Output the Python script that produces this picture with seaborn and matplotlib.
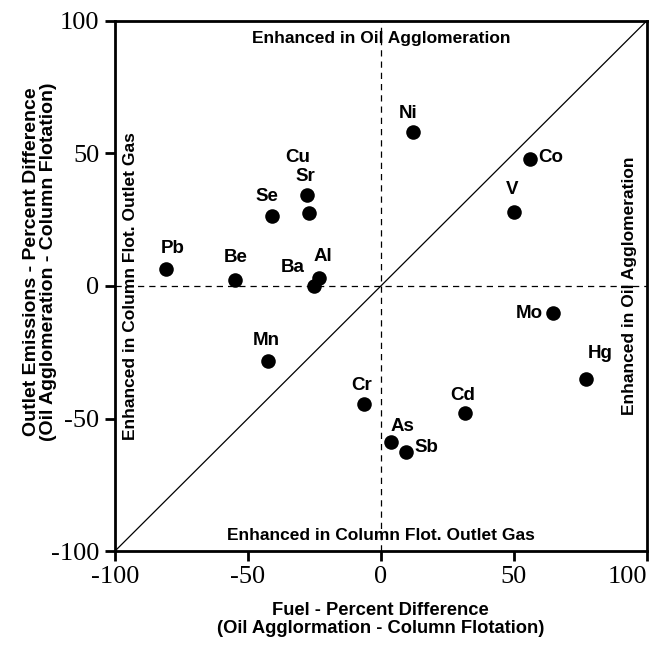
import matplotlib
matplotlib.use("Agg")
import matplotlib.pyplot as plt
import seaborn as sns
import pandas as pd

elements = ["Pb", "Be", "Se", "Cu", "Sr", "Ba", "Al", "Mn", "Cr", "As", "Sb",
            "Cd", "Ni", "Co", "V", "Mo", "Hg"]
fuel_diff = [-80.8, -54.9, -41.0, -27.8, -27.1, -25.2, -23.3, -42.5, -6.4, 3.8,
             9.4, 31.6, 12.0, 56.0, 50.0, 64.7, 77.1]
outlet_diff = [6.4, 2.3, 26.4, 34.3, 27.5, 0.0, 3.0, -28.3, -44.5, -58.9,
               -62.6, -47.9, 58.1, 47.9, 27.9, -10.2, -35.1]
tick_values = [-100, -50, 0, 50, 100]
tick_labels = ["-100", "-50", "0", "50", "100"]

df = pd.DataFrame({"element": elements, "fuel": fuel_diff, "outlet": outlet_diff})

sns.set_style("white")
plt.rcParams["font.family"] = ["Liberation Sans", "DejaVu Sans"]
plt.rcParams.update({"text.color": "black", "axes.labelcolor": "black",
                     "xtick.color": "black", "ytick.color": "black"})

fig = plt.figure(figsize=(6.6, 6.5), dpi=100)
ax = fig.add_axes([0.174, 0.152, 0.806, 0.816])

# reference lines
ax.plot([-100, 100], [-100, 100], color="black", lw=0.9, zorder=1)
ax.axhline(0, color="black", lw=0.9, ls=(0, (5, 4)), zorder=1)
ax.axvline(0, color="black", lw=0.9, ls=(0, (5, 4)), zorder=1)

sns.scatterplot(data=df, x="fuel", y="outlet", color="black", s=110,
                edgecolor="black", linewidth=0, ax=ax, zorder=3)

# label offsets in pixels (dx, dy), alignment
offsets = {
    "Pb": (7, 21, "center"), "Be": (1, 22, "center"), "Se": (-5, 19, "center"),
    "Cu": (-9, 38, "center"), "Sr": (-3, 37, "center"), "Ba": (-21, 19, "center"),
    "Al": (4, 22, "center"), "Mn": (-2, 21, "center"), "Cr": (-2, 19, "center"),
    "As": (12, 16, "center"), "Sb": (21, 5, "center"), "Cd": (-2, 18, "center"),
    "Ni": (-5, 18, "center"), "Co": (8, 1, "left"), "V": (-2, 23, "center"),
    "Mo": (-10, 0, "right"), "Hg": (14, 26, "center"),
}
px2pt = 72 / 100
for e, x, y in zip(elements, fuel_diff, outlet_diff):
    dx, dy, ha = offsets[e]
    ax.annotate(e, (x, y), xytext=(dx * px2pt, dy * px2pt), textcoords="offset points",
                ha=ha, va="center", fontsize=13.5, fontweight="bold")

# region annotations
fs_a = 12.5
ax.text(0, 93.5, "Enhanced in Oil Agglomeration", ha="center", va="center",
        fontsize=fs_a, fontweight="bold")
ax.text(0, -94, "Enhanced in Column Flot. Outlet Gas", ha="center", va="center",
        fontsize=fs_a, fontweight="bold")
ax.text(-94, 0, "Enhanced in Column Flot. Outlet Gas", ha="center", va="center",
        rotation=90, fontsize=fs_a, fontweight="bold")
ax.text(93.5, 0, "Enhanced in Oil Agglomeration", ha="center", va="center",
        rotation=90, fontsize=fs_a, fontweight="bold")

ax.set_xlim(-100, 100)
ax.set_ylim(-100, 100)
ax.set_xticks(tick_values)
ax.set_yticks(tick_values)
ax.set_xticklabels(tick_labels, family="Liberation Serif", fontsize=19)
ax.set_yticklabels(tick_labels, family="Liberation Serif", fontsize=19)
ax.get_xticklabels()[-1].set_horizontalalignment("right")
ax.tick_params(direction="out", length=7, width=2, pad=4, bottom=True, left=True)
for sp in ax.spines.values():
    sp.set_linewidth(2)
    sp.set_color("black")

ax.set_xlabel("Fuel - Percent Difference\n(Oil Agglormation - Column Flotation)",
              fontsize=13.2, fontweight="bold", labelpad=10, linespacing=1.05)
ax.set_ylabel("Outlet Emissions - Percent Difference\n(Oil Agglomeration - Column Flotation)",
              fontsize=14, fontweight="bold", linespacing=1.0)
ax.yaxis.set_label_coords(-0.108, 0.545)

fig.savefig("out.png", dpi=100)
